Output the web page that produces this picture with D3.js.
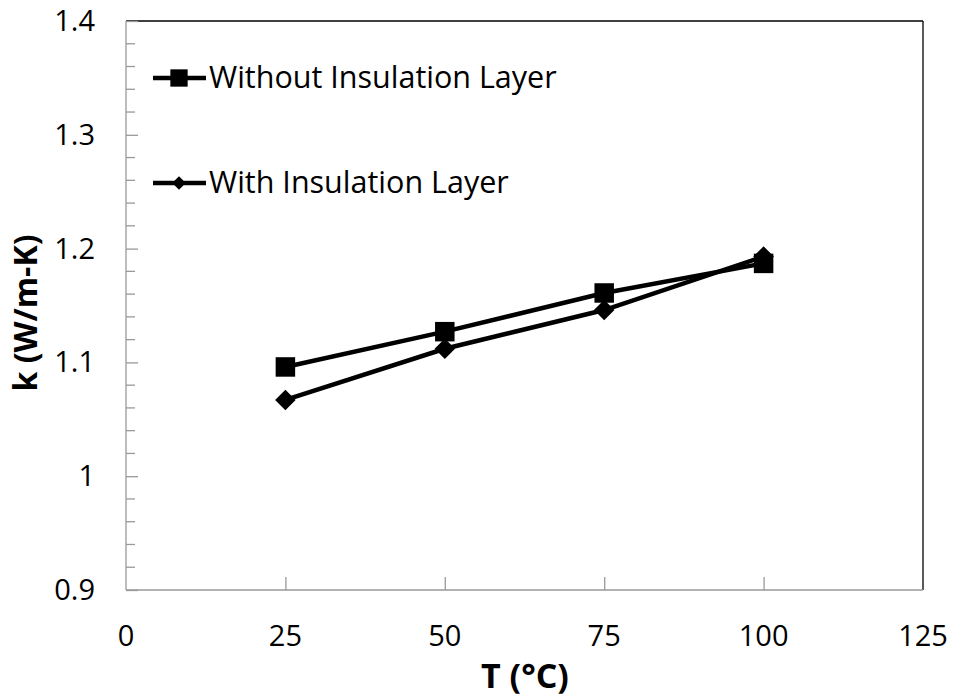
<!DOCTYPE html>
<html>
<head>
<meta charset="utf-8">
<script src="https://cdn.jsdelivr.net/npm/d3@7"></script>
<style>
  body { margin: 0; background: #fff; }
  text { font-family: "Open Sans", sans-serif; fill: #000; }
</style>
</head>
<body>
<svg id="chart" width="954" height="698"></svg>
<script>
// data
const temps = [25, 50, 75, 100]
const withoutLayer = [1.096, 1.127, 1.161, 1.187]
const withLayer = [1.067, 1.112, 1.146, 1.193]
const xTicks = [0, 25, 50, 75, 100, 125]
const yTicks = [0.9, 1, 1.1, 1.2, 1.3, 1.4]
const seriesNames = ["Without Insulation Layer", "With Insulation Layer"]

const margin = {left: 126, right: 31, top: 21, bottom: 108}
const width = 954 - margin.left - margin.right
const height = 698 - margin.top - margin.bottom

const svg = d3.select('#chart')
const g = svg.append('g').attr('transform', `translate(${margin.left},${margin.top})`)

var x = d3.scaleLinear().domain([0, 125]).range([0, width])
var y = d3.scaleLinear().domain([0.9, 1.4]).range([height, 0])

// square turned 45 degrees, same width and height
const squareDiamond = {
  draw(context, size) {
    const r = Math.sqrt(size / 2)
    context.moveTo(0, -r)
    context.lineTo(r, 0)
    context.lineTo(0, r)
    context.lineTo(-r, 0)
    context.closePath()
  }
}

// frame: top and right are black, axes are grey
g.append('line').attr('x1', 0).attr('x2', width).attr('y1', 0).attr('y2', 0)
  .style('stroke', '#000').style('stroke-width', 1.3)
g.append('line').attr('x1', width).attr('x2', width).attr('y1', 0).attr('y2', height)
  .style('stroke', '#000').style('stroke-width', 1.3)

// minor ticks on y every 0.02
const minor = d3.range(0.9, 1.4001, 0.02).filter(v => yTicks.every(t => Math.abs(t - v) > 1e-6))
g.selectAll('line.minor').data(minor).enter().append('line')
  .attr('class', 'minor')
  .attr('x1', 0).attr('x2', 9)
  .attr('y1', d => y(d)).attr('y2', d => y(d))
  .style('stroke', '#999').style('stroke-width', 1.3)

const yAxis = g.append('g')
  .call(d3.axisRight(y).tickValues(yTicks).tickSize(12).tickFormat(''))
yAxis.selectAll('line, path').style('stroke', '#999').style('stroke-width', 1.3)
yAxis.select('.domain').attr('d', `M0,0V${height}`)

const xAxis = g.append('g').attr('transform', `translate(0,${height})`)
  .call(d3.axisTop(x).tickValues(xTicks.slice(1, -1)).tickSize(13).tickFormat(''))
xAxis.selectAll('line, path').style('stroke', '#999').style('stroke-width', 1.3)
xAxis.select('.domain').attr('d', `M0,0H${width}`)

// tick labels
g.selectAll('text.ylab').data(yTicks).enter().append('text')
  .attr('class', 'ylab')
  .attr('x', -31).attr('y', d => y(d) + 10)
  .attr('text-anchor', 'end')
  .style('font-size', '29px')
  .text(d => d3.format('')(d))

g.selectAll('text.xlab').data(xTicks).enter().append('text')
  .attr('class', 'xlab')
  .attr('x', d => x(d)).attr('y', height + 56)
  .attr('text-anchor', 'middle')
  .style('font-size', '29px')
  .text(d => d)

// axis titles
svg.append('text')
  .attr('x', 525).attr('y', 688)
  .attr('text-anchor', 'middle')
  .style('font-size', '34px').style('font-weight', 'bold')
  .text('T (°C)')
svg.append('text')
  .attr('transform', 'translate(37,313) rotate(-90)')
  .attr('text-anchor', 'middle')
  .style('font-size', '32px').style('font-weight', 'bold')
  .text('k (W/m-K)')

const line = d3.line().x(d => x(d[0])).y(d => y(d[1]))
const sq = d3.symbol().type(d3.symbolSquare).size(380)
const dia = d3.symbol().type(squareDiamond).size(210)

const s1 = temps.map((t, i) => [t, withoutLayer[i]])
const s2 = temps.map((t, i) => [t, withLayer[i]])

g.append('path').datum(s1).attr('d', line)
  .style('fill', 'none').style('stroke', '#000').style('stroke-width', 4.5)
g.append('path').datum(s2).attr('d', line)
  .style('fill', 'none').style('stroke', '#000').style('stroke-width', 4.5)

g.selectAll('path.m1').data(s1).enter().append('path')
  .attr('class', 'm1')
  .attr('d', sq)
  .attr('transform', d => `translate(${x(d[0])},${y(d[1])})`)
  .style('fill', '#000')
g.selectAll('path.m2').data(s2).enter().append('path')
  .attr('class', 'm2')
  .attr('d', dia)
  .attr('transform', d => `translate(${x(d[0])},${y(d[1])})`)
  .style('fill', '#000')

// legend
const legend = svg.append('g')
const legY = [78, 183]
const legSymbols = [d3.symbol().type(d3.symbolSquare).size(300), d3.symbol().type(squareDiamond).size(90)]
seriesNames.forEach((name, i) => {
  legend.append('line')
    .attr('x1', 153).attr('x2', 206).attr('y1', legY[i]).attr('y2', legY[i])
    .style('stroke', '#000').style('stroke-width', 4.5)
  legend.append('path').attr('d', legSymbols[i])
    .attr('transform', `translate(179,${legY[i]})`)
    .style('fill', '#000')
  legend.append('text')
    .attr('x', 209).attr('y', legY[i] + 10)
    .style('font-size', '30.5px')
    .text(name)
})
</script>
</body>
</html>
